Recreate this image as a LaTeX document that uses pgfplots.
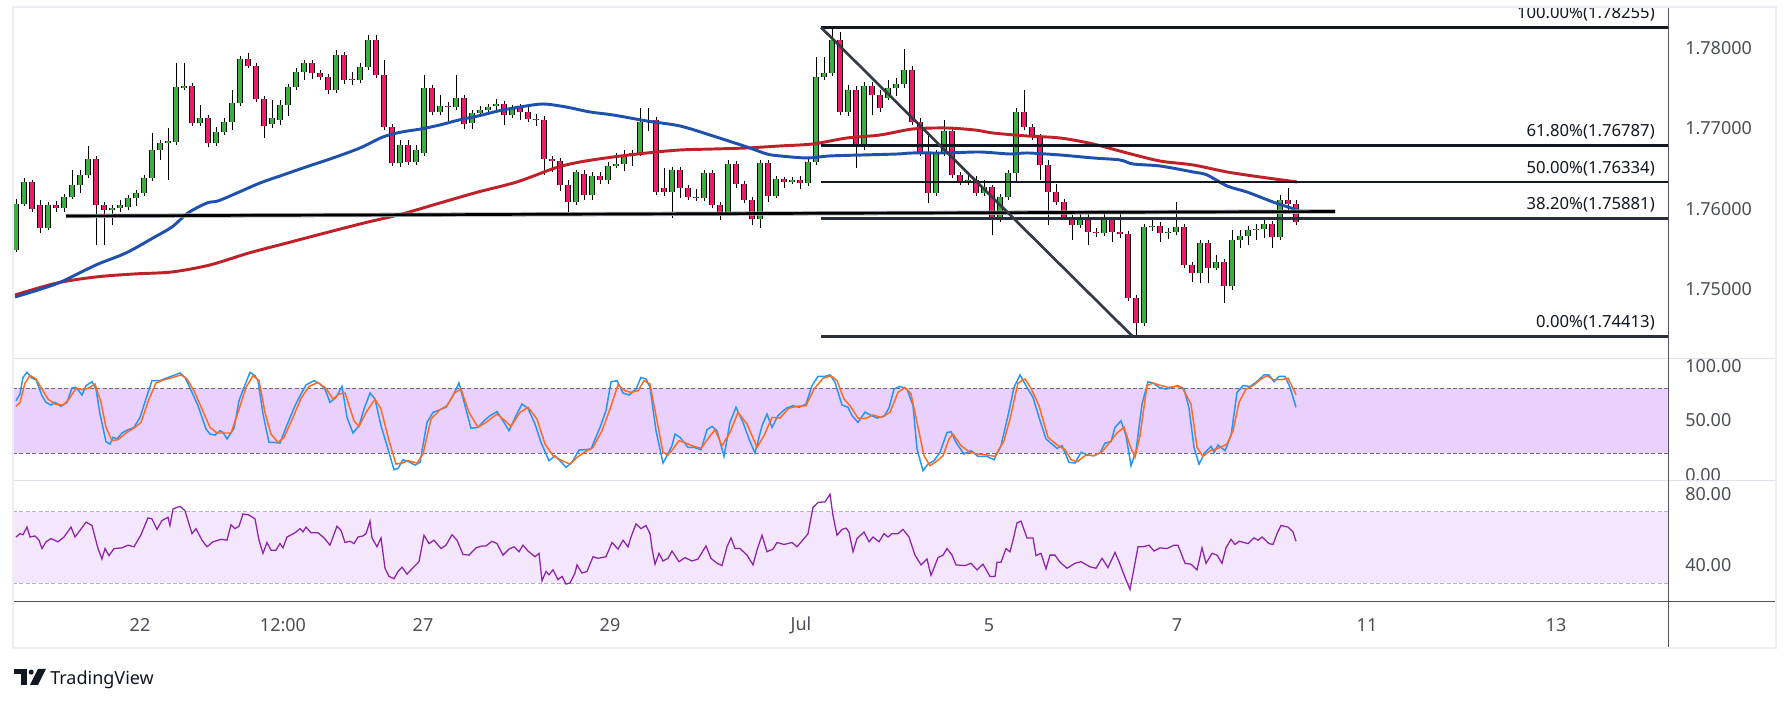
\documentclass[border=0pt]{standalone}
\usepackage{fontspec}
\setmainfont{Noto Sans}
\usepackage{pgfplots}
\usepackage{pgfplotstable}
\pgfplotsset{compat=1.18}

\definecolor{cgreen}{HTML}{3DAE3D}
\definecolor{cpink}{HTML}{EC1C6C}
\definecolor{mablue}{HTML}{1E50AC}
\definecolor{mared}{HTML}{BE2127}
\definecolor{kblue}{HTML}{2196F3}
\definecolor{dorange}{HTML}{FF6A1F}
\definecolor{rsipurple}{HTML}{8E24AA}
\definecolor{stband}{HTML}{EAD0FC}
\definecolor{rsiband}{HTML}{F4E6FD}
\definecolor{gridlt}{HTML}{E0E3EB}
\definecolor{framec}{HTML}{ECEEF4}
\definecolor{axisdark}{HTML}{50535E}
\definecolor{labgray}{HTML}{4C4F57}
\definecolor{fibdark}{HTML}{131722}
\definecolor{fibslate}{HTML}{2A2E39}
\definecolor{trendc}{HTML}{363A45}
\definecolor{dashst}{HTML}{6A6D78}
\definecolor{dashrsi}{HTML}{B2B5BE}
\definecolor{halo}{HTML}{A0A3AC}

\newcommand\axfont{\fontsize{13.5}{16}\selectfont}
\newcommand\fibfont{\fontsize{12.5}{15}\selectfont}

% rising candles (close >= open)
\pgfplotstableread{
x o h l c
16 1.75491 1.76124 1.75466 1.76062
24 1.76062 1.76385 1.76038 1.76336
48 1.75764 1.76087 1.75739 1.76050
64 1.76013 1.76187 1.75963 1.76149
72 1.76149 1.76485 1.76124 1.76298
80 1.76298 1.76485 1.76199 1.76423
88 1.76423 1.76783 1.76385 1.76621
112 1.75988 1.76050 1.75802 1.76013
120 1.76013 1.76112 1.75963 1.76050
128 1.76025 1.76174 1.75988 1.76137
136 1.76137 1.76236 1.76038 1.76199
144 1.76199 1.76423 1.76162 1.76385
152 1.76385 1.76944 1.76348 1.76733
160 1.76733 1.76857 1.76609 1.76820
168 1.76820 1.77006 1.76360 1.76845
176 1.76832 1.77814 1.76795 1.77516
184 1.77503 1.77814 1.77478 1.77528
200 1.77068 1.77292 1.77031 1.77130
216 1.76820 1.77019 1.76783 1.76957
224 1.76957 1.77130 1.76919 1.77081
232 1.77081 1.77478 1.76981 1.77317
240 1.77317 1.77900 1.77279 1.77863
272 1.77056 1.77354 1.77006 1.77130
280 1.77106 1.77354 1.77044 1.77292
288 1.77292 1.77553 1.77155 1.77516
296 1.77516 1.77751 1.77478 1.77702
304 1.77702 1.77851 1.77602 1.77814
336 1.77478 1.77975 1.77441 1.77913
360 1.77602 1.77814 1.77565 1.77764
368 1.77764 1.78161 1.77727 1.78099
400 1.76572 1.76857 1.76522 1.76795
416 1.76584 1.76795 1.76547 1.76733
424 1.76696 1.77665 1.76659 1.77503
440 1.77205 1.77416 1.77168 1.77279
456 1.77267 1.77665 1.77230 1.77379
472 1.77068 1.77230 1.76994 1.77193
480 1.77193 1.77279 1.77155 1.77230
488 1.77230 1.77304 1.77180 1.77267
496 1.77279 1.77366 1.77230 1.77304
512 1.77168 1.77292 1.77130 1.77255
576 1.76087 1.76485 1.76050 1.76460
592 1.76174 1.76460 1.76112 1.76410
608 1.76360 1.76584 1.76311 1.76534
616 1.76534 1.76696 1.76509 1.76559
624 1.76559 1.76733 1.76472 1.76671
632 1.76671 1.76733 1.76534 1.76696
640 1.76696 1.77255 1.76659 1.77081
648 1.77081 1.77255 1.76969 1.77106
672 1.76211 1.76522 1.75888 1.76485
704 1.76137 1.76485 1.76100 1.76447
728 1.75951 1.76609 1.75913 1.76559
760 1.75876 1.76609 1.75764 1.76572
776 1.76162 1.76410 1.76137 1.76373
792 1.76336 1.76398 1.76311 1.76360
808 1.76323 1.76621 1.76286 1.76584
816 1.76584 1.77888 1.76547 1.77640
824 1.77640 1.77888 1.77602 1.77689
832 1.77689 1.78255 1.77652 1.78099
848 1.77205 1.77540 1.77155 1.77478
864 1.76808 1.77578 1.76733 1.77528
888 1.77379 1.77602 1.77354 1.77503
896 1.77503 1.77627 1.77404 1.77553
904 1.77553 1.77987 1.77503 1.77727
936 1.76199 1.76733 1.76162 1.76696
944 1.76696 1.77106 1.76659 1.76969
968 1.76336 1.76423 1.76298 1.76360
984 1.76199 1.76360 1.76162 1.76274
1000 1.75888 1.76187 1.75839 1.76149
1008 1.76149 1.76485 1.76112 1.76447
1016 1.76447 1.77255 1.76336 1.77205
1080 1.75802 1.75938 1.75764 1.75888
1104 1.75702 1.75963 1.75665 1.75864
1144 1.74584 1.75814 1.74547 1.75777
1152 1.75777 1.75864 1.75727 1.75789
1168 1.75702 1.75764 1.75628 1.75715
1176 1.75715 1.76087 1.75677 1.75777
1200 1.75205 1.75615 1.75081 1.75578
1216 1.75267 1.75429 1.75243 1.75342
1232 1.75044 1.75739 1.74994 1.75615
1240 1.75615 1.75739 1.75516 1.75665
1248 1.75665 1.75789 1.75553 1.75739
1256 1.75739 1.75814 1.75615 1.75752
1264 1.75752 1.75864 1.75640 1.75814
1280 1.75653 1.76174 1.75615 1.76112
}\upc

% falling candles (close < open)
\pgfplotstableread{
x o h l c
32 1.76336 1.76360 1.75963 1.76000
40 1.76050 1.76112 1.75702 1.75764
56 1.76050 1.76100 1.75963 1.76013
96 1.76621 1.76659 1.75553 1.76050
104 1.76050 1.76087 1.75553 1.75988
192 1.77528 1.77565 1.77031 1.77068
208 1.77130 1.77168 1.76770 1.76820
248 1.77863 1.77938 1.77751 1.77776
256 1.77776 1.77814 1.77329 1.77366
264 1.77366 1.77404 1.76882 1.77031
312 1.77814 1.77851 1.77615 1.77689
320 1.77689 1.77727 1.77602 1.77640
328 1.77640 1.77677 1.77429 1.77478
344 1.77913 1.77950 1.77553 1.77602
352 1.77615 1.77702 1.77540 1.77602
376 1.78099 1.78161 1.77627 1.77665
384 1.77665 1.77851 1.76981 1.77019
392 1.77019 1.77056 1.76534 1.76572
408 1.76795 1.76857 1.76547 1.76584
432 1.77503 1.77540 1.77168 1.77205
448 1.77279 1.77329 1.77093 1.77267
464 1.77379 1.77416 1.76994 1.77056
504 1.77304 1.77342 1.77044 1.77168
520 1.77255 1.77304 1.77106 1.77205
528 1.77205 1.77292 1.77081 1.77118
536 1.77118 1.77180 1.77031 1.77106
544 1.77106 1.77155 1.76423 1.76621
552 1.76621 1.76659 1.76460 1.76596
560 1.76596 1.76634 1.76224 1.76298
568 1.76298 1.76360 1.75951 1.76087
584 1.76435 1.76485 1.76112 1.76174
600 1.76410 1.76460 1.76311 1.76360
656 1.77106 1.77143 1.76174 1.76211
664 1.76261 1.76509 1.76162 1.76211
680 1.76485 1.76522 1.76137 1.76261
688 1.76261 1.76298 1.76112 1.76149
696 1.76149 1.76249 1.76100 1.76137
712 1.76447 1.76485 1.76013 1.76050
720 1.76050 1.76087 1.75864 1.75951
736 1.76559 1.76596 1.76261 1.76311
744 1.76311 1.76348 1.76075 1.76112
752 1.76112 1.76149 1.75802 1.75876
768 1.76572 1.76609 1.76087 1.76162
784 1.76373 1.76398 1.76261 1.76336
800 1.76360 1.76410 1.76249 1.76323
840 1.78099 1.78199 1.77168 1.77205
856 1.77478 1.77528 1.76509 1.76808
872 1.77528 1.77578 1.77168 1.77416
880 1.77416 1.77478 1.77205 1.77255
912 1.77727 1.77776 1.77044 1.77081
920 1.77081 1.77130 1.76659 1.76696
928 1.76696 1.76919 1.76075 1.76199
952 1.76969 1.77006 1.76385 1.76423
960 1.76423 1.76460 1.76298 1.76336
976 1.76360 1.76410 1.76162 1.76199
992 1.76274 1.76298 1.75677 1.75888
1024 1.77205 1.77478 1.76981 1.77019
1032 1.77019 1.77056 1.76857 1.76895
1040 1.76895 1.76932 1.76360 1.76547
1048 1.76547 1.76609 1.75802 1.76211
1056 1.76211 1.76311 1.76050 1.76087
1064 1.76087 1.76124 1.75864 1.75901
1072 1.75901 1.75926 1.75615 1.75802
1088 1.75888 1.75938 1.75553 1.75715
1096 1.75715 1.75764 1.75653 1.75702
1112 1.75864 1.75901 1.75590 1.75715
1120 1.75715 1.75963 1.75640 1.75690
1128 1.75690 1.75727 1.74858 1.74895
1136 1.74895 1.74932 1.74413 1.74584
1160 1.75789 1.75839 1.75590 1.75702
1184 1.75777 1.75814 1.75267 1.75305
1192 1.75305 1.75342 1.75094 1.75205
1208 1.75578 1.75615 1.75081 1.75267
1224 1.75342 1.75379 1.74833 1.75044
1272 1.75814 1.75851 1.75516 1.75653
1288 1.76112 1.76261 1.75963 1.76062
1296 1.76062 1.76112 1.75802 1.75839
}\dnc

\pgfplotsset{
  tvpanel/.style={
    scale only axis, width=1241.25pt, xmin=13, xmax=1668,
    anchor=south west,
    axis line style={draw=none},
    major tick length=0pt, tick style={draw=none},
    xtick=\empty,
    yticklabel pos=right,
    yticklabel style={font=\axfont, text=labgray, anchor=west, inner sep=0pt, xshift=12.75pt},
    clip=true,
  },
  candlebar/.style 2 args={draw=none, mark=none, forget plot,
    error bars/.cd, y dir=plus, y explicit, error mark=none,
    error bar style={draw=#1, line width=#2}},
}

\begin{document}
\begin{tikzpicture}
\fill[white] (0,0) rectangle (1343.25pt,526.5pt);

% ---------------- main price panel ----------------
\begin{axis}[tvpanel, at={(9.75pt,257.25pt)}, height=264pt,
  ymin=1.74137, ymax=1.78509,
  ytick={1.75,1.76,1.77,1.78},
  yticklabels={1.75000,1.76000,1.77000,1.78000}]
% wicks
\addplot[candlebar={black}{0.75pt}]
  table[x=x, y=l, y error plus expr=\thisrow{h}-\thisrow{l}] {\upc};
\addplot[candlebar={black}{0.75pt}]
  table[x=x, y=l, y error plus expr=\thisrow{h}-\thisrow{l}] {\dnc};
% rising bodies
\addplot[candlebar={black}{3.9pt}]
  table[x=x, y=o, y error plus expr=\thisrow{c}-\thisrow{o}] {\upc};
\addplot[candlebar={cgreen}{2.4pt}]
  table[x=x, y=o, y error plus expr=\thisrow{c}-\thisrow{o}] {\upc};
% falling bodies
\addplot[candlebar={black}{3.9pt}]
  table[x=x, y=c, y error plus expr=\thisrow{o}-\thisrow{c}] {\dnc};
\addplot[candlebar={cpink}{2.4pt}]
  table[x=x, y=c, y error plus expr=\thisrow{o}-\thisrow{c}] {\dnc};

% moving averages
\addplot[mared, line width=2.2pt, smooth, mark=none] coordinates {
(15,1.74932)(57,1.75081)(96,1.75156)(134,1.75193)(172,1.75218)(210,1.75305)
(249,1.75454)(287,1.75578)(325,1.75702)(364,1.75826)(402,1.75938)(440,1.76075)
(478,1.76211)(517,1.76336)(555,1.76509)(580,1.76584)(613,1.76646)(647,1.76696)
(680,1.76733)(713,1.76745)(747,1.76758)(780,1.76783)(813,1.76808)(847,1.76882)
(880,1.76919)(913,1.76994)(947,1.77006)(975,1.76981)(993,1.76944)(1027,1.76907)
(1060,1.76882)(1093,1.76808)(1127,1.76696)(1160,1.76596)(1193,1.76547)
(1227,1.76460)(1260,1.76398)(1297,1.76336)};
\addplot[mablue, line width=2.2pt, smooth, mark=none] coordinates {
(15,1.74907)(38,1.74994)(61,1.75094)(96,1.75305)(126,1.75454)(153,1.75640)
(172,1.75777)(188,1.75951)(207,1.76075)(218,1.76100)(237,1.76199)(260,1.76323)
(283,1.76423)(306,1.76522)(333,1.76634)(360,1.76758)(383,1.76895)(402,1.76957)
(421,1.76994)(440,1.77044)(459,1.77106)(478,1.77155)(498,1.77217)(520,1.77267)
(543,1.77304)(566,1.77267)(590,1.77205)(613,1.77168)(647,1.77093)(680,1.77031)
(713,1.76907)(747,1.76770)(767,1.76683)(780,1.76659)(807,1.76634)(830,1.76659)
(863,1.76671)(897,1.76683)(913,1.76696)(947,1.76696)(980,1.76708)(1010,1.76683)
(1027,1.76696)(1060,1.76671)(1093,1.76634)(1120,1.76609)(1133,1.76559)
(1160,1.76534)(1193,1.76460)(1207,1.76423)(1227,1.76286)(1247,1.76211)
(1273,1.76087)(1297,1.75988)};

% horizontal support
\addplot[halo, line width=3.2pt, mark=none] coordinates {(66,1.75913)(1335,1.75969)};
\addplot[black, line width=2pt, mark=none] coordinates {(66,1.75913)(1335,1.75969)};

% fibonacci retracement
\addplot[fibdark, line width=2pt, mark=none] coordinates {(821,1.78255)(1668,1.78255)};
\addplot[fibdark, line width=2pt, mark=none] coordinates {(821,1.76787)(1668,1.76787)};
\addplot[fibdark, line width=2pt, mark=none] coordinates {(821,1.76334)(1668,1.76334)};
\addplot[fibslate, line width=2pt, mark=none] coordinates {(821,1.75881)(1668,1.75881)};
\addplot[fibslate, line width=2pt, mark=none] coordinates {(821,1.74413)(1668,1.74413)};
% trend line
\addplot[trendc, line width=2pt, mark=none] coordinates {(821,1.78255)(1133,1.74413)};

\node[anchor=base east, inner sep=0pt, font=\fibfont, text=fibdark, yshift=6.75pt] at (axis cs:1655,1.78255) {100.00\%(1.78255)};
\node[anchor=base east, inner sep=0pt, font=\fibfont, text=fibdark, yshift=6.75pt] at (axis cs:1655,1.76787) {61.80\%(1.76787)};
\node[anchor=base east, inner sep=0pt, font=\fibfont, text=fibdark, yshift=6.75pt] at (axis cs:1655,1.76334) {50.00\%(1.76334)};
\node[anchor=base east, inner sep=0pt, font=\fibfont, text=fibdark, yshift=6.75pt] at (axis cs:1655,1.75881) {38.20\%(1.75881)};
\node[anchor=base east, inner sep=0pt, font=\fibfont, text=fibdark, yshift=6.75pt] at (axis cs:1655,1.74413) {0.00\%(1.74413)};
\end{axis}

% ---------------- stochastic panel ----------------
\begin{axis}[tvpanel, at={(9.75pt,165.75pt)}, height=91.5pt,
  ymin=-5.8, ymax=106.8,
  ytick={0,50,100}, yticklabels={0.00,50.00,100.00}]
\fill[stband] (axis cs:13,20) rectangle (axis cs:1668,80);
\draw[dashst, line width=0.75pt, dash pattern=on 3pt off 1.8pt] (axis cs:13,80) -- (axis cs:1668,80);
\draw[dashst, line width=0.75pt, dash pattern=on 3pt off 1.8pt] (axis cs:13,20) -- (axis cs:1668,20);
\addplot[kblue, line width=1.1pt, mark=none] coordinates {
(16,68.3)(20,74.5)(23,89.8)(27,94.5)(32,89)(36,87.7)(42,72.9)(46,66.8)(51,64.3)(55,66.8)(61,63.1)(67,66.8)(72,80)(76,80.6)(82,73.5)(86,82.2)(92,85.8)(96,79)(100,56)(106,30.5)(110,28.3)(113,34.5)(117,33)(122,38.5)(126,40.6)(134,43.7)(140,52.9)(147,72.9)(152,86.8)(160,86.8)(166,89)(173,91.4)(180,93.9)(185,89.8)(192,76)(198,63.7)(206,42.2)(210,37.5)(215,36.6)(220,40.6)(223,39)(227,33)(234,42.8)(239,68.3)(244,80.6)(250,94.5)(255,91.4)(258,86.8)(263,56)(269,29.8)(274,29.8)(280,29.2)(286,43.7)(295,63.7)(301,74.5)(306,82.8)(314,86.8)(320,83.7)(325,79)(330,66.8)(336,71.4)(342,81.5)(347,52.9)(353,38.5)(359,45.2)(364,60.6)(370,75.4)(375,69.8)(381,45.2)(387,26.8)(394,4.6)(398,5.8)(403,13.8)(409,11.9)(415,8.9)(420,11.4)(427,48.3)(433,57.5)(440,60)(446,62.2)(452,71.4)(459,84.6)(465,63.7)(471,42.8)(478,43.7)(484,49.8)(490,54.5)(497,58.2)(503,49.8)(509,40.6)(516,54.5)(522,65.2)(528,61.2)(535,46.8)(541,29.8)(549,12.9)(555,17.5)(560,12.9)(566,6.8)(572,11.4)(579,22.8)(585,23.1)(591,23.7)(600,43.7)(606,59.1)(611,85.8)(617,86.8)(623,75.4)(629,73.5)(636,79)(641,89.8)(646,88.3)(650,80.6)
(656,40.6)(663,10.8)(668,19.1)(672,26.8)(675,37.5)(680,34.5)(688,25.2)(694,25.2)(701,23.1)(707,41.5)(712,44.6)(717,40.6)(724,16.9)(730,48.3)(736,62.2)(743,48.3)(749,33)(755,20)(762,45.2)(767,56)(772,43.7)(778,54.5)(786,61.2)(793,63.7)(799,62.2)(806,65.2)(812,82.2)(818,90.8)(825,90.8)(830,92.1)(835,85.2)(842,64.3)(848,62.2)(852,54.5)(858,48.3)(865,57.8)(871,54.8)(877,52.3)(884,53.9)(889,61.5)(894,79)(900,81.5)(907,79)(913,63.7)(917,23.7)(923,3.7)(928,9.8)(934,12.9)(940,20.6)(947,39)(951,39.6)(956,29.8)(964,19.1)(971,22.2)(978,16.9)(987,16.9)(994,13.8)(1001,26.8)(1008,54.5)(1014,80.6)(1020,92.1)(1027,80.6)(1033,71.4)(1039,52.9)(1046,33)(1052,28.3)(1057,24.3)(1062,26.8)(1069,11.4)(1075,10.8)(1081,20.6)(1088,18.2)(1094,17.5)(1100,20)(1105,29.2)(1111,30.5)(1115,43.7)(1121,49.8)(1126,36)(1131,8.3)(1136,22.2)(1142,65.2)(1148,85.8)(1153,84.6)(1159,80.6)(1166,79)(1172,80.6)(1178,82.2)(1184,79)(1189,61.5)(1194,25.2)(1199,9.8)(1205,20.6)(1211,26.2)(1214,20.6)(1218,27.4)(1225,22.2)(1231,36)(1237,76)(1243,82.2)(1250,81.5)(1256,85.2)(1264,92.1)(1269,92.1)(1274,85.8)(1279,90.8)(1285,90.8)(1290,80.6)(1296,62.2)};
\addplot[dorange, line width=1.1pt, mark=none] coordinates {
(16,63.1)(20,66.8)(25,84.6)(30,91.7)(36,88.3)(42,79)(48,69.8)(55,65.2)(63,64.3)(69,69.8)(76,79.7)(82,78.5)(88,79.7)(95,83.7)(101,66.8)(106,43.7)(112,31.4)(118,32.3)(126,38.5)(135,43.7)(141,48.3)(149,69.8)(156,84.6)(164,87.7)(173,89.8)(181,92.1)(187,88.3)(194,77.5)(202,60.6)(210,43.7)(217,38.5)(223,38.5)(231,38.5)(238,57.5)(246,80.6)(253,91.4)(259,86.8)(265,57.5)(271,37.5)(278,29.8)(284,34.5)(293,52.9)(301,70.5)(309,81.5)(318,85.2)(326,79.7)(333,69.8)(339,74.5)(345,75.4)(354,49.8)(359,44.6)(366,57.5)(375,69.8)(381,60.6)(389,31.4)(396,9.8)(402,10.8)(408,12.9)(417,10.8)(423,19.1)(431,51.4)(440,60)(447,63.7)(455,76)(461,79)(469,57.5)(478,43.7)(486,48.3)(497,56)(505,49.8)(511,44.6)(520,57.5)(528,62.2)(537,51.4)(545,28.3)(553,17.5)(562,12.9)(570,9.8)(577,16)(585,21.2)(593,25.2)(602,40.6)(610,60.6)(618,82.8)(625,77.5)(631,76)(638,77.5)(644,86.8)(650,83.7)
(656,54.5)(663,20.6)(668,18.2)(673,23.7)(679,31.4)(686,29.2)(692,26.8)(701,24.3)(709,34.5)(715,41.5)(722,26.8)(730,39)(738,57.5)(747,46.8)(757,25.2)(764,36)(772,52.9)(780,52.3)(789,61.5)(797,63.1)(806,63.7)(814,79)(823,89)(831,91.4)(837,86.8)(844,69.8)(850,63.7)(858,52.3)(865,51.7)(873,55.1)(881,52.9)(890,57.5)(898,76)(905,80.6)(911,74.5)(917,48.3)(924,17.5)(930,8.3)(936,12)(943,17.5)(949,33)(953,37.5)(961,26.8)(970,20.6)(978,19.1)(987,18.2)(995,16.9)(1004,31.4)(1010,51.4)(1018,84.6)(1025,88.3)(1031,79.7)(1039,63.7)(1048,34.5)(1056,28.3)(1065,23.1)(1071,13.8)(1077,11.9)(1086,18.2)(1094,17.5)(1102,21.2)(1111,31.4)(1117,38.5)(1124,43.7)(1130,26.8)(1135,16)(1140,36)(1147,82.2)(1153,84.6)(1159,82.8)(1168,80.6)(1176,81.5)(1182,80.6)(1191,65.2)(1197,25.2)(1203,16.9)(1210,22.2)(1218,24.3)(1227,28.3)(1233,40.6)(1239,66.8)(1246,79)(1254,82.8)(1260,87.7)(1267,91.4)(1273,87.7)(1281,87.7)(1288,89)(1292,81.5)(1296,73.9)};
\end{axis}

% ---------------- RSI panel ----------------
\begin{axis}[tvpanel, at={(9.75pt,75pt)}, height=90.75pt,
  ymin=19.3, ymax=87.46,
  ytick={40,80}, yticklabels={40.00,80.00},
  xtick={140,283,423,610,801,989,1177,1367,1556},
  xticklabels={22,12:00,27,29,Jul,5,7,11,13},
  xticklabel style={font=\axfont, text=labgray, anchor=center, inner sep=0pt, yshift=-17.25pt}]
\fill[rsiband] (axis cs:13,30) rectangle (axis cs:1668,70);
\draw[dashrsi, line width=0.75pt, dash pattern=on 3pt off 1.8pt] (axis cs:13,70) -- (axis cs:1668,70);
\draw[dashrsi, line width=0.75pt, dash pattern=on 3pt off 1.8pt] (axis cs:13,30) -- (axis cs:1668,30);
\addplot[rsipurple, line width=0.95pt, mark=none] coordinates {
(16,55.9)(20,57.8)(23,57.2)(27,61.5)(30,55.9)(35,56.5)(39,54.1)(42,49.4)(46,53.2)(51,55)(58,53.2)(64,55.9)(71,61.5)(75,55.9)(80,59.6)(86,64.3)(92,62.4)(98,49.4)(102,43.5)(105,49.4)(109,45.4)(114,49.4)(122,49.8)(128,51.3)(134,50.4)(141,57.2)(148,66.7)(152,66.1)(157,60.2)(162,65.2)(168,67)(170,62.4)(173,71.7)(180,73.2)(185,70.7)(192,57.8)(196,60.6)(202,54.1)(207,50.4)(213,53.2)(221,54.6)(227,54.1)(231,62.8)(235,60.6)(239,62)(243,68.9)(249,68.3)(255,66.1)(259,54.1)(263,46.7)(267,52.8)(271,48.5)(276,48.5)(280,52.2)(283,49.8)(287,55.9)(295,58.3)(300,60.6)(303,58.8)(306,61.5)(311,58.3)(318,58.3)(324,55.4)(330,51.3)(337,62)(341,59.6)(345,52.8)(350,53.5)(354,52.2)(358,55.9)(363,56.5)(366,57.8)(370,64.8)(372,55.4)(377,50.4)(381,55.4)(385,38.3)(389,33.7)(394,32.4)(398,36.5)(402,38.9)(407,35)(412,38)(419,42)(424,56.9)(429,52.2)(434,54.1)(441,49.4)(446,51.3)(452,57.2)(457,54.1)(463,46.1)(469,45.7)(476,49.8)(482,50.9)(486,50.9)(492,53.5)(497,52.2)(503,45.7)(509,49.1)(514,50.4)(519,47.6)(523,51.3)(528,48)(535,44.8)(539,46.7)(542,31.3)(546,36.5)(549,34.6)(553,37.4)(558,31.9)(562,33.7)(566,29.4)(570,30)(575,35.6)(577,40.2)(582,35.6)(587,36.5)(593,44.8)(598,43.9)(606,44.8)(612,52.8)(618,49.1)(623,54.1)(628,50.4)(631,55.9)(636,63.3)(641,60.6)(646,62.4)
(650,57.8)(652,49.4)(655,40.6)(659,46.7)(663,42.4)(668,43.9)(672,48)(679,42)(685,44.3)(692,42.4)(698,43.5)(706,50.9)(711,43.9)(717,41.1)(722,39.8)(727,50.4)(731,55.4)(735,49.4)(740,49.4)(747,45.7)(753,40.2)(757,48.5)(762,56.9)(767,47.6)(773,49.1)(777,52.8)(784,51.7)(792,52.8)(797,50.4)(804,55)(808,57.8)(813,72.6)(818,75.4)(825,75.7)(830,80)(833,68)(837,56.9)(842,60.2)(846,60.9)(849,58.7)(853,47.6)(857,55)(864,58.7)(869,53.2)(873,55.9)(879,53.2)(884,57.8)(888,55.9)(892,57.8)(898,57.8)(903,60.2)(909,55.9)(915,45.7)(921,40.2)(927,43.5)(931,34.3)(938,44.3)(943,45.7)(947,49.4)(952,45.7)(956,40.2)(965,39.8)(971,41.1)(977,37.4)(983,40.6)(990,33.7)(995,33.7)(997,41.7)(1001,41.7)(1006,49.4)(1010,47.6)(1013,54.1)(1017,63.9)(1021,64.8)(1027,55.4)(1033,55.4)(1036,45.4)(1041,46.7)(1046,38)(1050,45.7)(1055,45.7)(1060,41.7)(1067,38.3)(1075,41.1)(1081,42)(1090,39.1)(1096,38.3)(1102,43.9)(1108,38.7)(1115,47.2)(1119,42)(1124,34.6)(1130,26.3)(1134,38.3)(1138,50.4)(1143,50.4)(1149,51.3)(1154,48)(1160,49.8)(1167,49.4)(1174,51.3)(1178,51.3)(1185,41.1)(1191,40.6)(1197,37.4)(1202,49.8)(1206,41.1)(1212,46.7)(1217,45.7)(1222,41.1)(1226,49.8)(1231,54.6)(1235,51.7)(1239,53.5)(1248,52.2)(1254,55.4)(1258,54.1)(1262,55.9)(1269,52.2)(1273,51.7)(1277,57.8)(1281,62.4)(1288,61.5)(1293,58.7)(1296,53.5)};
\end{axis}

% ---------------- frame and separators ----------------
\draw[gridlt, line width=0.75pt] (9.75pt,257.25pt) -- (1332pt,257.25pt);
\draw[gridlt, line width=0.75pt] (9.75pt,165.75pt) -- (1332pt,165.75pt);
\draw[axisdark, line width=0.75pt] (9.75pt,75pt) -- (1332pt,75pt);
\draw[axisdark, line width=0.75pt] (1251pt,40.5pt) -- (1251pt,521.25pt);
\draw[framec, line width=1.5pt] (9.75pt,40.5pt) rectangle (1332pt,521.25pt);

% ---------------- TradingView logo ----------------
\fill[fibdark] (10.5pt,21pt) rectangle (20.25pt,24.75pt);
\fill[fibdark] (15.75pt,12.75pt) rectangle (20.25pt,24.75pt);
\fill[fibdark] (23.4pt,22.4pt) circle (1.9pt);
\fill[fibdark] (28.5pt,24.75pt) -- (34.5pt,24.75pt) -- (28.5pt,12.75pt) -- (22.5pt,12.75pt) -- cycle;
\node[anchor=base west, inner sep=0pt, font=\fontsize{13.5}{16}\selectfont, text=fibdark] at (37.5pt,12.9pt) {TradingView};

\pgfresetboundingbox
\useasboundingbox (0,0) rectangle (1343.25pt,526.5pt);
\end{tikzpicture}
\end{document}
